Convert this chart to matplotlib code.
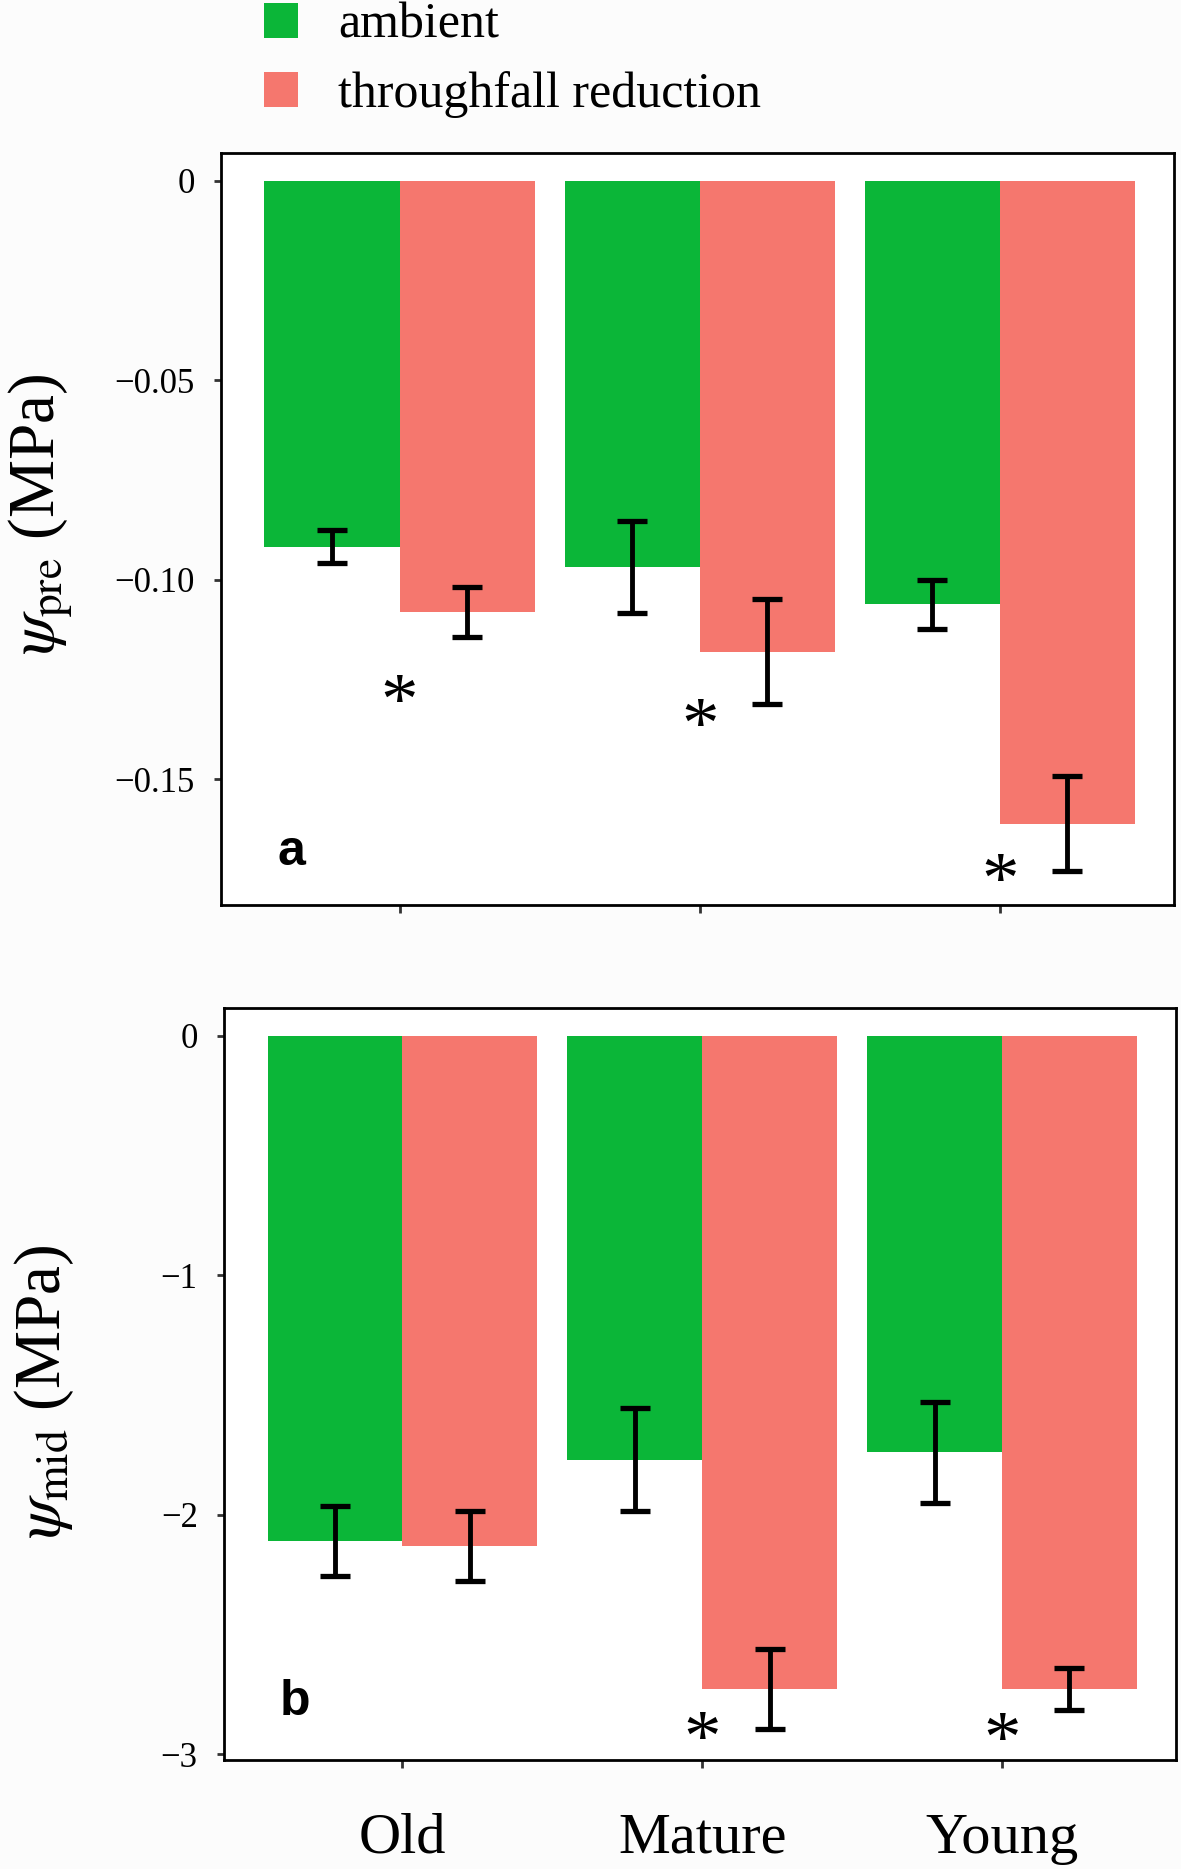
import matplotlib
matplotlib.use('Agg')
import matplotlib.pyplot as plt
import numpy as np

# dados
grupos = ['Old', 'Mature', 'Young']
pre_ambient = [-0.0917, -0.0968, -0.1061]
pre_ambient_se = [0.0041, 0.0115, 0.0061]
pre_tfr = [-0.108, -0.118, -0.1611]
pre_tfr_se = [0.0063, 0.0132, 0.012]
mid_ambient = [-2.11, -1.771, -1.740]
mid_ambient_se = [0.147, 0.215, 0.212]
mid_tfr = [-2.13, -2.728, -2.728]
mid_tfr_se = [0.147, 0.166, 0.086]

# asteriscos de significancia
pre_sig = ['*', '*', '*']
pre_sig_y = [-0.1316, -0.1376, -0.1766]
mid_sig = ['', '*', '*']
mid_sig_y = [-2.96, -2.955, -2.96]

COR_AMB = '#0BB638'
COR_TFR = '#F5776E'

plt.rcParams['font.family'] = ['Liberation Serif', 'DejaVu Serif']
plt.rcParams['mathtext.fontset'] = 'stix'

fig = plt.figure(figsize=(11.81, 18.69), dpi=100, facecolor='#fcfcfc')
ax1 = fig.add_axes([0.1871, 0.5158, 0.807, 0.4023])
ax2 = fig.add_axes([0.1897, 0.0583, 0.806, 0.4024])

x = np.arange(len(grupos))
w = 0.45


def painel(ax, amb, amb_se, tfr, tfr_se, sig, sig_y, ylim, yticks, yticklabels,
           ylabel, label_xy, letra, letra_xy):
    b1 = ax.bar(x - w / 2, amb, w, color=COR_AMB, label='ambient')
    b2 = ax.bar(x + w / 2, tfr, w, color=COR_TFR, label='throughfall reduction')
    ax.errorbar(x - w / 2, amb, yerr=amb_se, fmt='none', ecolor='black',
                elinewidth=3.5, capsize=11, capthick=3.8)
    ax.errorbar(x + w / 2, tfr, yerr=tfr_se, fmt='none', ecolor='black',
                elinewidth=3.5, capsize=11, capthick=3.8)
    for xi, s, ys in zip(x, sig, sig_y):
        if s:
            ax.text(xi, ys, s, ha='center', va='center', fontsize=54)
    ax.set_xlim(-0.595, 2.58)
    ax.set_ylim(*ylim)
    ax.set_yticks(yticks)
    ax.set_yticklabels(yticklabels)
    ax.set_xticks(x)
    ax.tick_params(axis='y', labelsize=25, length=5, width=2, pad=14, color='#333333')
    ax.tick_params(axis='x', length=6, width=2, color='#333333')
    for sp in ax.spines.values():
        sp.set_linewidth(2)
    ax.set_ylabel(ylabel, fontsize=47)
    ax.yaxis.set_label_coords(*label_xy)
    ax.text(letra_xy[0], letra_xy[1], letra, transform=ax.transAxes, fontsize=36,
            fontweight='bold', family='Liberation Sans', ha='center', va='center',
            bbox=dict(facecolor='white', edgecolor='none', pad=8))
    return b1, b2


h1, h2 = painel(ax1, pre_ambient, pre_ambient_se, pre_tfr, pre_tfr_se, pre_sig, pre_sig_y,
                (-0.1815, 0.007), [0, -0.05, -0.10, -0.15],
                ['0', '\u22120.05', '\u22120.10', '\u22120.15'],
                r'$\psi_{\mathrm{pre}}$ (MPa)', (-0.153, 0.52), 'a', (0.074, 0.07))
ax1.set_xticklabels([])

painel(ax2, mid_ambient, mid_ambient_se, mid_tfr, mid_tfr_se, mid_sig, mid_sig_y,
       (-3.025, 0.117), [0, -1, -2, -3],
       ['0', '\u22121', '\u22122', '\u22123'],
       r'$\psi_{\mathrm{mid}}$ (MPa)', (-0.156, 0.49), 'b', (0.074, 0.077))
ax2.set_xticklabels(grupos, fontsize=42)
ax2.tick_params(axis='x', pad=32)

fig.legend(handles=[h1, h2], loc='upper left', bbox_to_anchor=(0.2235, 0.9988),
           frameon=False, fontsize=36, handlelength=0.68, handleheight=0.7,
           handletextpad=0.8, labelspacing=0.45, borderpad=0.0, borderaxespad=0.0)

fig.savefig('out.png', dpi=100, facecolor=fig.get_facecolor())
